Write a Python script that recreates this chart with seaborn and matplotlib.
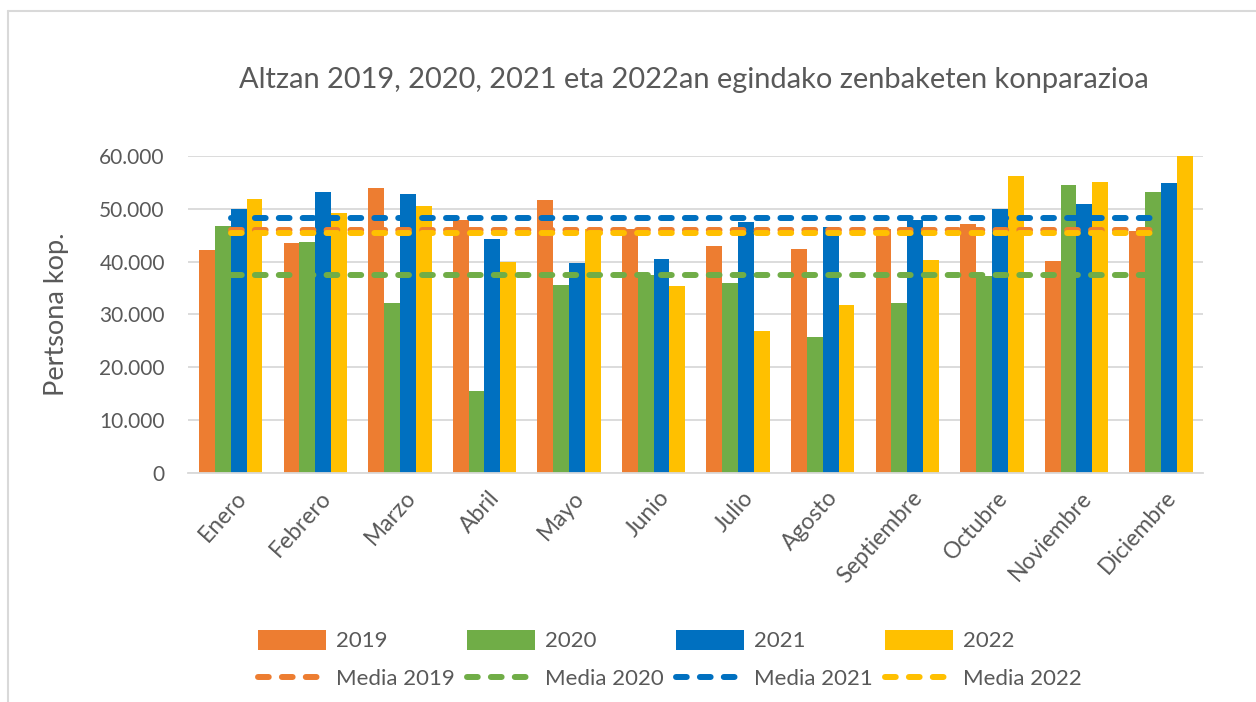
import matplotlib
matplotlib.use('Agg')
import matplotlib.pyplot as plt
import matplotlib.transforms as mtransforms
import pandas as pd
import seaborn as sns
from matplotlib.lines import Line2D
from matplotlib.patches import Patch
from matplotlib.ticker import FuncFormatter

meses = ['Enero', 'Febrero', 'Marzo', 'Abril', 'Mayo', 'Junio', 'Julio',
         'Agosto', 'Septiembre', 'Octubre', 'Noviembre', 'Diciembre']
urteak = ['2019', '2020', '2021', '2022']

v2019 = [42200, 43600, 53950, 47900, 51600, 46100, 42950, 42400, 46100, 47060, 40050, 45800]
v2020 = [46750, 43800, 32200, 15550, 35500, 37400, 36000, 25800, 32100, 37270, 54450, 53250]
v2021 = [49900, 53250, 52800, 44350, 39670, 40550, 47570, 46550, 47900, 49900, 50850, 54830]
v2022 = [51900, 49150, 50550, 40000, 46200, 35300, 26800, 31840, 40300, 56200, 54960, 62000]

# medias
medias = {'2019': 45950, '2020': 37520, '2021': 48200, '2022': 45450}

colores = {'2019': '#ED7D31', '2020': '#70AD47', '2021': '#0070C0', '2022': '#FFC000'}
gris = '#595959'

df = pd.DataFrame({
    'Mes': meses * 4,
    'Año': [u for u in urteak for _ in meses],
    'Valor': v2019 + v2020 + v2021 + v2022,
})

sns.set_theme(style='white')
plt.rcParams['font.family'] = ['Lato', 'DejaVu Sans']

fig = plt.figure(figsize=(12.56, 7.02), dpi=100)
ax = fig.add_axes([0.150, 0.326, 0.808, 0.452])

sns.barplot(data=df, x='Mes', y='Valor', hue='Año', palette=colores,
            order=meses, hue_order=urteak, width=0.75, linewidth=0,
            saturation=1, legend=False, ax=ax)

for u in urteak:
    ax.plot(range(len(meses)), [medias[u]] * len(meses), color=colores[u],
            lw=4.3, dashes=(1.8, 2.2), dash_capstyle='round', zorder=5)

ax.set_ylim(0, 60000)
ax.set_xlim(-0.5, 11.5)
ax.set_yticks(range(0, 60001, 10000))
ax.yaxis.set_major_formatter(FuncFormatter(lambda v, p: f'{int(v):,}'.replace(',', '.')))
ax.grid(axis='y', color='#D9D9D9', lw=1.3)
ax.set_axisbelow(True)
for s in ['top', 'right', 'left']:
    ax.spines[s].set_visible(False)
ax.spines['bottom'].set_color('#D9D9D9')
ax.spines['bottom'].set_linewidth(1.3)

ax.tick_params(axis='y', length=0, pad=17, labelsize=15, labelcolor=gris)
ax.tick_params(axis='x', length=0, pad=10, labelsize=16.5, labelcolor=gris)
desplaza = mtransforms.ScaledTranslation(4 / 100, 0, fig.dpi_scale_trans)
for lab in ax.get_xticklabels():
    lab.set_rotation(48)
    lab.set_ha('right')
    lab.set_rotation_mode('anchor')
    lab.set_transform(lab.get_transform() + desplaza)

ax.set_xlabel('')
ax.set_ylabel('Pertsona kop.', fontsize=19.5, color=gris, labelpad=22)

fig.text(0.5525, 0.886, 'Altzan 2019, 2020, 2021 eta 2022an egindako zenbaketen konparazioa',
         ha='center', va='center', fontsize=20.9, color=gris)

handles, labels = [], []
for u in urteak:
    handles.append(Patch(facecolor=colores[u], edgecolor='none'))
    labels.append(u)
    handles.append(Line2D([0], [0], color=colores[u], lw=4.3, dashes=(1.8, 2.2),
                          dash_capstyle='round'))
    labels.append('Media ' + u)
fig.legend(handles, labels, ncol=4, loc='center', bbox_to_anchor=(0.533, 0.0605),
           frameon=False, fontsize=16, handlelength=3.06, handleheight=1.0,
           handletextpad=0.45, columnspacing=0.55, labelspacing=0.75, labelcolor=gris)

# marco
fig.add_artist(Line2D([8 / 1256, 1], [1 - 11 / 702, 1 - 11 / 702], color='#D9D9D9', lw=1.5))
fig.add_artist(Line2D([8 / 1256, 8 / 1256], [0, 1 - 11 / 702], color='#D9D9D9', lw=1.5))

fig.savefig('out.png', dpi=100)
